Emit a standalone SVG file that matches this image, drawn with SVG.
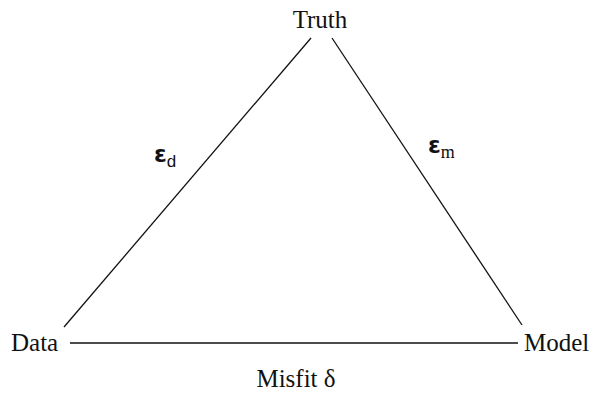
<svg xmlns="http://www.w3.org/2000/svg" width="596" height="393" viewBox="0 0 596 393">
<style>
.lbl{font-family:"Liberation Serif","Times New Roman",serif;font-size:25px;fill:#111}
.eps{font-family:"DejaVu Sans","Liberation Sans",sans-serif;font-size:23px;font-weight:bold;fill:#111}
.sub{font-family:"Liberation Serif",serif;font-size:18px;font-weight:normal;fill:#111}
.subs{font-family:"Liberation Sans",sans-serif;font-size:17px;font-weight:normal;fill:#111}
.edge{stroke:#111;stroke-width:1.3;fill:none}
</style>
<rect width="596" height="393" fill="#fff"/>
<g id="connectors">
<line class="edge" x1="64" y1="327" x2="311" y2="38"/>
<line class="edge" x1="332" y1="38" x2="522" y2="325"/>
<line class="edge" x1="70" y1="343" x2="518" y2="343"/>
<text class="eps" x="154" y="162">ε<tspan class="subs" dy="5">d</tspan></text>
<text class="eps" x="428" y="153">ε<tspan class="sub" dy="5">m</tspan></text>
<text class="lbl" x="296" y="387" text-anchor="middle">Misfit δ</text>
</g>
<g id="truth"><text class="lbl" x="320" y="28" text-anchor="middle">Truth</text></g>
<g id="data"><text class="lbl" x="11" y="351">Data</text></g>
<g id="model"><text class="lbl" x="524" y="351">Model</text></g>
</svg>
